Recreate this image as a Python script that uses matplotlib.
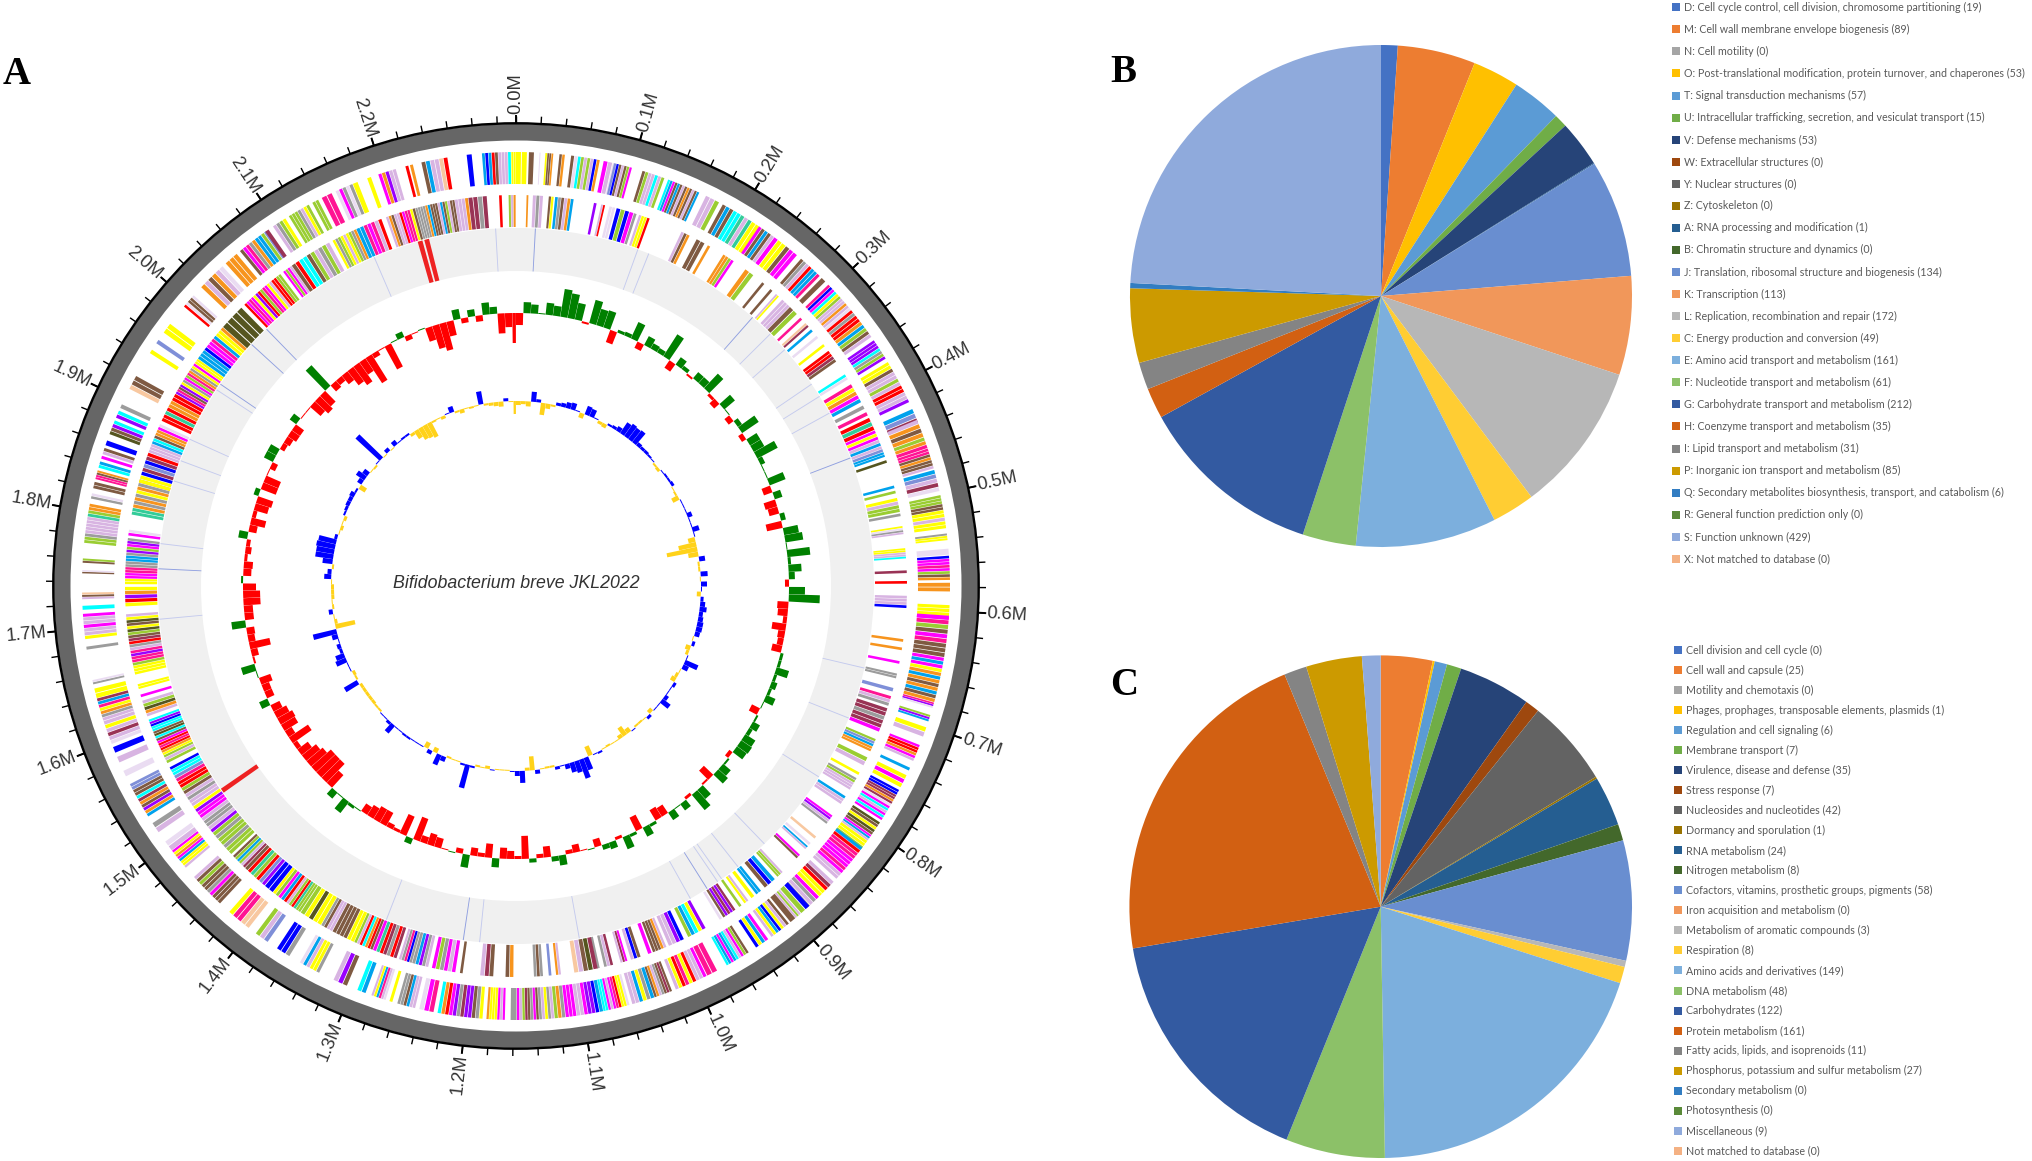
import numpy as np
import matplotlib
matplotlib.use("Agg")
import matplotlib.pyplot as plt
from matplotlib.patches import Rectangle

# genome length in kb, 10 kb windows
genome_kb = 2315
window_kb = 10

# GC content deviation per window, positive outward (green), negative inward (red)
gc_dev = [
    -12, 11, 9, 1, 12, 10, 28, 25, 17, -2,
    24, 17, 18, -13, 3, 4, 18, -7, 10, 6,
    5, 26, -9, 9, 4, -2, 8, 8, 20, -3,
    -7, 14, 1, -6, 5, 20, -5, 12, 12, 23,
    5, 1, 1, 17, -9, 8, -12, -10, 5, -16,
    15, 18, 1, 23, 3, 13, 6, -4, 16, 31,
    -11, -10, -4, -14, -7, -6, -10, 3, 3, 13,
    3, 6, 3, 10, 1, -9, 2, 8, 4, 12,
    13, 12, -4, 2, 10, 13, -13, -2, 12, 20,
    -3, 8, 1, 9, -10, -12, 3, 10, -15, 3,
    13, -3, 7, 5, -8, 1, -1, -8, -4, 10,
    5, -11, -4, 4, -23, -3, -8, -11, 9, -14,
    -4, -8, 13, -5, 1, -1, -10, -12, -7, -24,
    6, -21, -3, -5, -15, -15, -12, -9, 1, 3,
    14, 1, 8, -17, -26, -26, -26, -21, -18, -13,
    -5, -23, -8, -16, -17, -14, -10, 9, -8, -8,
    -12, 1, 14, -2, -7, -21, -7, -8, 14, -9,
    -9, -17, -17, -13, 2, -8, -9, -3, -6, -4,
    9, -8, -15, -4, -14, -16, 5, -16, -16, -1,
    -6, 10, 10, -5, -7, -10, -10, 8, -1, -1,
    -14, -18, -15, 28, -8, -6, -11, -18, -23, -15,
    -30, -5, -1, -26, 1, 6, -5, -1, 1, -14,
    -24, -28, -15, 10, -5, 7, -6, 12, 7, -20,
    -14, -30,
]

# GC skew per window, positive outward (blue), negative inward (yellow)
gc_skew = [
    -4, -3, -5, 10, 3, -12, -5, -2, 3, 4,
    6, 7, 1, -5, 9, 8, 1, -3, -4, 2,
    3, 5, 13, 15, 14, 15, 4, 3, 3, 2,
    1, -2, -3, 1, 2, 2, 3, -1, -2, -7,
    1, 1, 1, 5, 1, 1, 7, 1, -7, -18,
    -31, -10, 6, -2, -2, 7, -1, 6, 1, -4,
    3, 5, 7, 4, 5, 6, 6, 5, -1, 3,
    -5, -3, 1, 14, 6, -1, -3, -5, 3, 1,
    1, 4, 10, 1, 1, -4, 3, -1, -2, -2,
    1, -5, -10, -4, -1, -1, -2, -1, 2, 1,
    -10, 13, 20, 12, 10, 5, 1, 3, -2, -2,
    -1, 4, -14, -3, 12, 5, 1, -1, -1, -1,
    1, -3, -1, -2, 2, 24, 2, -1, -1, -2,
    5, 11, -5, 4, -6, 1, 1, 1, 2, 2,
    1, 1, 10, 3, 1, 1, -2, -2, -3, -3,
    -3, -3, -3, 15, -2, -3, 1, 1, 11, 9,
    3, 4, 1, 6, 24, -20, -3, -1, 4, -2,
    -1, -3, -3, -3, -1, 7, 4, -2, 10, 18,
    18, 19, 18, 3, -1, -3, -1, -3, 2, 3,
    4, 4, 5, 2, -7, 5, 10, 6, -1, -2,
    1, 33, -1, 4, -1, 5, 1, 2, 2, -3,
    -9, -13, -14, -16, -2, -1, -3, 1, 6, -2,
    -4, -1, -2, -1, 13, -2, -3, -4, -5, 3,
    -1, -13,
]

# ncRNA positions (kb) and the shade they show in
rna_kb = [20, 128, 140, 266, 291, 313, 358, 373, 393, 444, 664, 718, 786, 875, 911, 932,
          937, 950, 970, 1092, 1195, 1212, 1294, 1702, 1754, 1780, 1846, 1868, 1892,
          1950, 1957, 2009, 2031, 2165, 2294]
rna_shade = "mllmlllllmlllllllmlllmllmlllllmmmll"
rrna_kb = [1512, 2215, 2222]

# COG colour codes used in the two gene rings
cog_colors = {
    "y": "#ffff00", "l": "#d8b4e2", "d": "#eadcf2", "b": "#7f5a42", "m": "#ff00ff",
    "p": "#ff1493", "r": "#ff0000", "B": "#0000ff", "a": "#00a2ed", "c": "#00ffff",
    "o": "#f7941d", "g": "#9acd32", "n": "#55551f", "k": "#9c9c9c", "q": "#33cc99",
    "v": "#9900ff", "w": "#993355", "s": "#7f8fd8", "t": "#f8c8a0",
}

# gene groups, outer ring: start kb, end kb, COG code of each gene
outer_genes = [
    (0, 10, "yy"), (11, 16, "b"), (20, 21, "d"), (25, 32, "ybbo"), (37, 42, "bo"), (47, 53, "bd"),
    (53, 72, "cglglBo"), (75, 87, "mld"), (84, 100, "sBblbgm"), (109, 129, "bgllclg"),
    (132, 161, "cambablboblba"), (167, 180, "llg"), (183, 212, "babccqlq"), (212, 220, "yy"),
    (219, 235, "mbabl"), (235, 260, "myybmm"), (264, 286, "bklraap"), (288, 293, "b"),
    (296, 312, "pBmcyg"), (312, 325, "llold"), (325, 331, "rk"), (331, 354, "rroagbl"),
    (357, 376, "vvvckgv"), (379, 418, "yybllglrrllv"), (424, 437, "asw"), (434, 450, "lobo"),
    (450, 460, "gop"), (460, 478, "ppbobbl"), (479, 498, "aslwd"), (501, 514, "gggbb"),
    (514, 530, "yylyy"), (534, 540, "kyy"), (547, 553, "d"), (553, 574, "Bmmpmgbo"),
    (576, 584, "oo"), (595, 608, "yyym"), (604, 628, "mpgbmp"), (628, 640, "bbb"),
    (640, 653, "mamy"), (653, 679, "oaoboabo"), (679, 684, "pvd"), (690, 696, "gva"),
    (701, 710, "yl"), (717, 732, "mrroml"), (738, 741, "a"), (745, 757, "ymy"), (759, 764, "BB"),
    (764, 775, "wwowd"), (775, 789, "mclmcm"), (791, 804, "nbynb"), (804, 810, "mal"),
    (810, 822, "yygl"), (817, 852, "arppmmmpmll"), (855, 887, "lwryymklk"), (884, 894, "Bg"),
    (894, 900, "lgl"), (900, 906, "b"), (907, 926, "blyBayl"), (929, 942, "mayB"),
    (949, 971, "bgmlcamac"), (980, 990, "pp"), (990, 1019, "mllrypryl"), (1022, 1038, "bwbklob"),
    (1038, 1058, "akyall"), (1060, 1083, "dyyrpmlmcc"), (1083, 1106, "aBvvmll"),
    (1106, 1125, "mmmkog"), (1125, 1138, "lkylk"), (1138, 1157, "bmkbwglm"), (1157, 1163, "k"),
    (1167, 1183, "mlmyyyo"), (1186, 1225, "ykbvvwkvmroc"), (1228, 1241, "pmd"),
    (1244, 1260, "llabkk"), (1264, 1267, "y"), (1270, 1283, "dlpayl"), (1288, 1296, "ac"),
    (1305, 1318, "bvl"), (1331, 1350, "kyylad"), (1360, 1373, "kBB"), (1382, 1395, "slg"),
    (1402, 1424, "ttppy"), (1434, 1466, "bbbmkbbgbl"), (1476, 1495, "lyyamoym"), (1495, 1505, "ld"),
    (1514, 1524, "lk"), (1530, 1562, "aovbowcbbss"), (1569, 1575, "d"), (1582, 1588, "l"),
    (1591, 1597, "B"), (1599, 1620, "dlwlyl"), (1620, 1640, "lkoypaw"), (1640, 1649, "yy"),
    (1652, 1656, "kd"), (1682, 1685, "k"), (1691, 1710, "yllmll"), (1710, 1713, "m"),
    (1716, 1720, "c"), (1725, 1731, "lbt"), (1747, 1750, "bd"), (1756, 1760, "bg"),
    (1773, 1807, "ggklllllqgoo"), (1811, 1816, "kd"), (1820, 1826, "bb"), (1828, 1836, "ppbo"),
    (1838, 1844, "ca"), (1846, 1849, "m"), (1850, 1856, "lb"), (1858, 1863, "B"),
    (1868, 1881, "nbvc"), (1883, 1890, "vc"), (1892, 1896, "k"), (1910, 1923, "tbb"),
    (1945, 1949, "y"), (1955, 1959, "s"), (1966, 1976, "yy"), (1994, 2007, "rdbbd"),
    (2016, 2042, "olbold"), (2045, 2058, "ooo"), (2061, 2090, "bmpkoaags"), (2088, 2092, "w"),
    (2096, 2109, "lkgy"), (2112, 2132, "gggklyg"), (2135, 2141, "gg"), (2144, 2154, "pp"),
    (2157, 2173, "dmkdk"), (2173, 2178, "y"), (2186, 2190, "y"), (2196, 2212, "movll"),
    (2220, 2223, "r"), (2224, 2227, "o"), (2234, 2257, "balltr"), (2273, 2278, "B"),
    (2286, 2311, "aBarblllc"), (2311, 2315, "yy"),
]

# gene groups, inner ring
inner_genes = [
    (10, 12, "o"), (16, 26, "lkl"), (31, 36, "by"), (37, 55, "akbloa"), (74, 77, "v"), (81, 85, "lr"),
    (89, 95, "dd"), (96, 113, "BgBm"), (113, 116, "k"), (118, 129, "lyyr"), (161, 170, "lbo"),
    (177, 186, "bb"), (189, 192, "o"), (206, 215, "oog"), (215, 218, "m"), (231, 241, "og"),
    (251, 254, "b"), (261, 264, "b"), (268, 272, "ly"), (276, 286, "lll"), (286, 296, "bg"),
    (300, 303, "p"), (307, 312, "tw"), (315, 318, "a"), (323, 326, "d"), (333, 336, "y"),
    (341, 354, "rrwb"), (368, 371, "c"), (371, 374, "d"), (379, 399, "pyoma"), (402, 406, "k"),
    (409, 413, "p"), (415, 428, "rqr"), (428, 444, "mymla"), (444, 450, "ls"), (450, 455, "aa"),
    (458, 461, "n"), (483, 486, "a"), (488, 491, "g"), (495, 509, "ylgg"), (510, 513, "k"),
    (522, 530, "ydkl"), (543, 553, "yyllc"), (564, 567, "w"), (574, 577, "r"), (588, 600, "lllB"),
    (629, 632, "o"), (637, 640, "o"), (650, 653, "m"), (662, 667, "kk"), (676, 680, "s"),
    (684, 694, "plk"), (696, 720, "wwkwwm"), (727, 740, "gsaoo"), (746, 755, "gl"), (762, 765, "y"),
    (768, 781, "kglll"), (788, 797, "all"), (810, 820, "mvlk"), (835, 838, "t"), (843, 846, "d"),
    (847, 851, "al"), (858, 863, "mb"), (881, 888, "lgg"), (891, 904, "aBb"), (908, 914, "aa"),
    (916, 920, "y"), (923, 928, "ly"), (931, 934, "g"), (938, 952, "wvwvb"), (953, 956, "d"),
    (971, 990, "vycag"), (994, 1010, "Bvll"), (1012, 1020, "lob"), (1020, 1026, "bb"),
    (1027, 1031, "m"), (1038, 1048, "bBl"), (1051, 1058, "mwl"), (1065, 1074, "wlk"),
    (1078, 1081, "k"), (1080, 1103, "wnblt"), (1115, 1120, "lo"), (1124, 1127, "s"),
    (1132, 1141, "kbk"), (1160, 1168, "ob"), (1179, 1192, "bwl"), (1208, 1211, "b"),
    (1215, 1238, "mlmkgm"), (1241, 1257, "lkvak"), (1257, 1270, "kBpkl"), (1272, 1296, "wrkwrqm"),
    (1296, 1315, "brocrlg"), (1315, 1338, "yybbbb"), (1338, 1350, "llbk"), (1350, 1373, "yynyg"),
    (1373, 1389, "ggqrgl"), (1389, 1405, "ramgy"), (1405, 1415, "BB"), (1415, 1440, "vsrgqrb"),
    (1440, 1456, "wlgagb"), (1458, 1485, "ggkggkg"), (1485, 1492, "vl"),
    (1492, 1550, "kklmmvyllklbgrrps"), (1550, 1559, "ccB"), (1563, 1569, "gl"),
    (1569, 1608, "gyorprmbcnbccBvc"), (1611, 1614, "l"), (1614, 1627, "ongl"), (1630, 1633, "m"),
    (1638, 1643, "yy"), (1652, 1710, "yyygppvplkrwbgnybnyl"), (1717, 1736, "yrvoy"),
    (1738, 1782, "yymmppkkaakvgmvk"), (1784, 1790, "md"), (1804, 1842, "qqokokyokod"),
    (1835, 1865, "yyBwsBwr"), (1865, 1894, "lllacboomd"), (1897, 1926, "rrqroorr"),
    (1926, 1965, "vpbvykmgpokymyy"), (1965, 2003, "aaaBmmpayyo"), (2003, 2029, "nnnn"),
    (2032, 2077, "rmpmyvrgpmylrrgg"), (2080, 2090, "mgml"), (2090, 2132, "brccbglkgl"),
    (2135, 2160, "ykgylygko"), (2160, 2186, "aapmplr"), (2190, 2219, "lobllrmppyb"),
    (2219, 2257, "kkkkoabbblabglbb"), (2257, 2270, "lllo"), (2270, 2288, "wwkw"), (2299, 2302, "r"),
    (2308, 2315, "glo"),
]

# panel B, COG classes
cog_labels = [
    "D: Cell cycle control, cell division, chromosome partitioning", "M: Cell wall membrane envelope biogenesis",
    "N: Cell motility", "O: Post-translational modification, protein turnover, and chaperones",
    "T: Signal transduction mechanisms", "U: Intracellular trafficking, secretion, and vesiculat transport",
    "V: Defense mechanisms", "W: Extracellular structures", "Y: Nuclear structures", "Z: Cytoskeleton",
    "A: RNA processing and modification", "B: Chromatin structure and dynamics",
    "J: Translation, ribosomal structure and biogenesis", "K: Transcription",
    "L: Replication, recombination and repair", "C: Energy production and conversion",
    "E: Amino acid transport and metabolism", "F: Nucleotide transport and metabolism",
    "G: Carbohydrate transport and metabolism", "H: Coenzyme transport and metabolism",
    "I: Lipid transport and metabolism", "P: Inorganic ion transport and metabolism",
    "Q: Secondary metabolites biosynthesis, transport, and catabolism", "R: General function prediction only",
    "S: Function unknown", "X: Not matched to database",
]
cog_counts = [19, 89, 0, 53, 57, 15, 53, 0, 0, 0, 1, 0, 134, 113, 172, 49, 161, 61, 212, 35, 31, 85, 6, 0, 429, 0]

# panel C, subsystem classes
sub_labels = [
    "Cell division and cell cycle", "Cell wall and capsule", "Motility and chemotaxis",
    "Phages, prophages, transposable elements, plasmids", "Regulation and cell signaling", "Membrane transport",
    "Virulence, disease and defense", "Stress response", "Nucleosides and nucleotides", "Dormancy and sporulation",
    "RNA metabolism", "Nitrogen metabolism", "Cofactors, vitamins, prosthetic groups, pigments",
    "Iron acquisition and metabolism", "Metabolism of aromatic compounds", "Respiration", "Amino acids and derivatives",
    "DNA metabolism", "Carbohydrates", "Protein metabolism", "Fatty acids, lipids, and isoprenoids",
    "Phosphorus, potassium and sulfur metabolism", "Secondary metabolism", "Photosynthesis", "Miscellaneous",
    "Not matched to database",
]
sub_counts = [0, 25, 0, 1, 6, 7, 35, 7, 42, 1, 24, 8, 58, 0, 3, 8, 149, 48, 122, 161, 11, 27, 0, 0, 9, 0]

pie_colors = [
    "#4472c4", "#ed7d31", "#a5a5a5", "#ffc000", "#5b9bd5", "#70ad47", "#264478", "#9e480e", "#636363",
    "#997300", "#255e91", "#43682b", "#698ed0", "#f1975a", "#b7b7b7", "#ffcd33", "#7cafdd", "#8cc168",
    "#335aa1", "#d26012", "#848484", "#cc9a00", "#327dc2", "#5a8a39", "#8faadc", "#f4b183",
]

W, H = 2032, 1161
CX, CY = 516, 586
RMAX = 520

fig = plt.figure(figsize=(W / 100, H / 100), dpi=100, facecolor="white")


def to_theta(kb):
    return np.asarray(kb, dtype=float) / genome_kb * 2 * np.pi


# --- panel A, circular genome map
ax = fig.add_axes([(CX - RMAX) / W, (H - CY - RMAX) / H, 2 * RMAX / W, 2 * RMAX / H], projection="polar")
ax.set_theta_zero_location("N")
ax.set_theta_direction(-1)

ax.bar(0, 16.5, width=2 * np.pi, bottom=445.5, color="#666666", linewidth=0, align="edge")
ax.bar(0, 2.4, width=2 * np.pi, bottom=461.5, color="black", linewidth=0, align="edge")

# the last label before the origin is 2.2M, 2.3M is left out so it does not hit 0.0M
major_kb = np.arange(0, genome_kb - 100, 100)
minor_kb = np.arange(0, genome_kb, 20)
ax.vlines(to_theta(minor_kb), 463, 470, color="black", linewidth=1.0)
ax.vlines(to_theta(major_kb), 463, 471, color="black", linewidth=1.4)
for kb in major_kb:
    deg = kb / genome_kb * 360
    rot = 90 - deg if deg <= 180 else 270 - deg
    ax.text(to_theta(kb), 492, "%.1fM" % (kb / 1000), rotation=rot, rotation_mode="anchor",
            ha="center", va="center", fontsize=13.2, family="Liberation Sans", color="#333333")


def draw_genes(groups, r0, r1):
    starts, widths, cols = [], [], []
    for start, end, codes in groups:
        step = (end - start) / len(codes)
        for i, code in enumerate(codes):
            starts.append(start + i * step)
            widths.append(step * 0.85)
            cols.append(cog_colors[code])
    ax.bar(to_theta(starts), r1 - r0, width=to_theta(widths), bottom=r0, color=cols, linewidth=0, align="edge")


draw_genes(outer_genes, 402, 434)
draw_genes(inner_genes, 359, 391)

# ncRNA band
ax.bar(0, 43, width=2 * np.pi, bottom=315, color="#f0f0f0", linewidth=0, align="edge")
shades = {"m": "#8f9fe0", "l": "#c4caee"}
ax.bar(to_theta(rna_kb), 43, width=to_theta([1.0] * len(rna_kb)), bottom=315,
       color=[shades[s] for s in rna_shade], linewidth=0)
ax.bar(to_theta(rrna_kb), 43, width=to_theta([5.0] * len(rrna_kb)), bottom=315, color="#ee2222", linewidth=0)


def draw_windows(values, base, pos_col, neg_col):
    starts = np.arange(len(values)) * window_kb
    widths = np.minimum(window_kb, genome_kb - starts) * 0.97
    cols = [pos_col if v > 0 else neg_col for v in values]
    ax.bar(to_theta(starts), values, width=to_theta(widths), bottom=base, color=cols, linewidth=0, align="edge")


draw_windows(gc_dev, 273, "#008000", "#ff0000")
draw_windows(gc_skew, 185, "#0000ff", "#ffd21a")

ax.set_ylim(0, RMAX)
ax.set_axis_off()

# --- pies
for counts, (px, py, rad) in [(cog_counts, (1381, 296, 251)), (sub_counts, (1380.7, 906.7, 251.3))]:
    pie_ax = fig.add_axes([(px - rad) / W, (H - py - rad) / H, 2 * rad / W, 2 * rad / H])
    pie_ax.pie(counts, colors=pie_colors, startangle=90, counterclock=False, radius=1,
               wedgeprops={"linewidth": 0})
    pie_ax.set_xlim(-1, 1)
    pie_ax.set_ylim(-1, 1)

# --- overlay in image pixels for legends and panel letters
over = fig.add_axes([0, 0, 1, 1], facecolor="none")
over.set_xlim(0, W)
over.set_ylim(H, 0)
over.set_axis_off()


def draw_legend(labels, counts, x, y0, dy):
    for i, (lab, n) in enumerate(zip(labels, counts)):
        y = y0 + i * dy
        over.add_patch(Rectangle((x, y - 4), 8, 8, color=pie_colors[i], linewidth=0))
        over.text(x + 11.5, y, "%s (%d)" % (lab, n), ha="left", va="center", fontsize=7.7,
                  family="Lato", color="#595959")


draw_legend(cog_labels, cog_counts, 1672, 7.3, 22.06)
draw_legend(sub_labels, sub_counts, 1674, 650, 20.03)

over.text(516, 583, "Bifidobacterium breve JKL2022", ha="center", va="center", fontsize=12.8, style="italic",
          family="Liberation Sans", color="#333333")

for letter, x, y in [("A", 3, 84), ("B", 1110, 82), ("C", 1110, 695)]:
    over.text(x, y, letter, ha="left", va="baseline", fontsize=28, fontweight="bold",
              family="Liberation Serif", color="black")

fig.savefig("out.png", dpi=100)
